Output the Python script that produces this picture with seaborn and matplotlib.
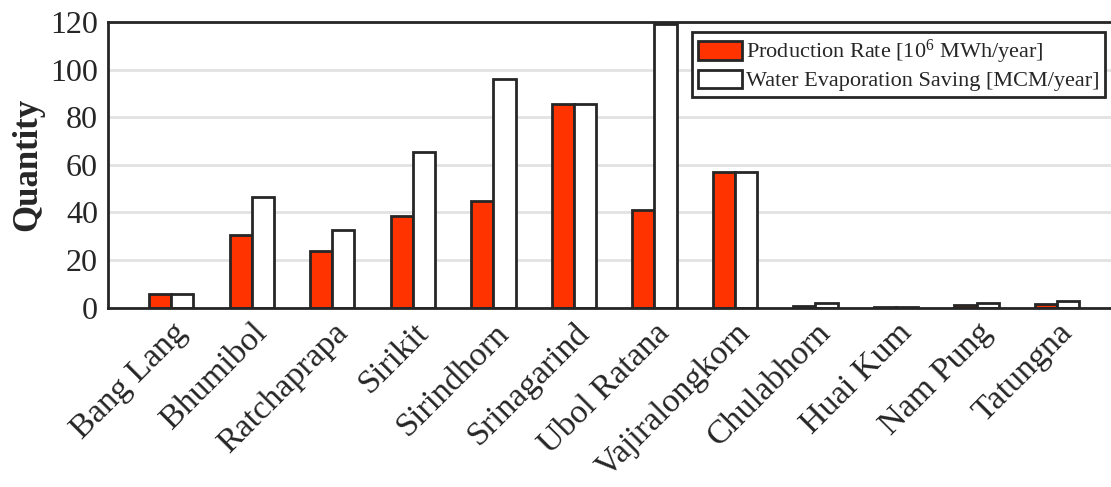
import matplotlib
matplotlib.use("Agg")
import matplotlib.pyplot as plt
import seaborn as sns
import pandas as pd
from matplotlib.patches import Patch

# Hydropower reservoirs and their floating-PV estimates
reservoirs = ["Bang Lang", "Bhumibol", "Ratchaprapa", "Sirikit", "Sirindhorn",
              "Srinagarind", "Ubol Ratana", "Vajiralongkorn", "Chulabhorn",
              "Huai Kum", "Nam Pung", "Tatungna"]
production_rate = [5.8, 30.6, 23.9, 38.5, 45.0, 85.6, 41.2, 57.2, 0.9, 0.3, 1.0, 1.4]
evaporation_saving = [5.8, 46.6, 32.7, 65.2, 96.2, 85.6, 119.3, 57.2, 2.1, 0.3, 2.0, 2.9]
series_names = ["Production Rate [10$^6$ MWh/year]",
                "Water Evaporation Saving [MCM/year]"]
y_ticks = [0, 20, 40, 60, 80, 100, 120]

df = pd.DataFrame({
    "Reservoir": reservoirs * 2,
    "Quantity": production_rate + evaporation_saving,
    "Series": [series_names[0]] * len(reservoirs) + [series_names[1]] * len(reservoirs),
})

sns.set_theme(style="white")
plt.rcParams["font.family"] = ["Liberation Serif", "DejaVu Serif"]
plt.rcParams["mathtext.fontset"] = "custom"
plt.rcParams["mathtext.rm"] = "Liberation Serif"
plt.rcParams["mathtext.it"] = "Liberation Serif:italic"

red = "#FF3300"
edge = "#262626"

fig = plt.figure(figsize=(11.11, 4.87), dpi=100)
ax = fig.add_axes([0.0969, 0.368, 0.9031, 0.587])

sns.barplot(data=df, x="Reservoir", y="Quantity", hue="Series",
            palette=[red, "white"], width=0.55, edgecolor=edge,
            linewidth=2.0, ax=ax, legend=False, saturation=1)

ax.set_ylim(0, 120)
ax.set_xlim(-0.79, 11.67)
ax.set_yticks(y_ticks)
ax.set_yticklabels([str(t) for t in y_ticks], fontsize=23)
ax.set_xticks(range(len(reservoirs)))
ax.set_xticklabels(reservoirs, rotation=45, ha="right",
                   rotation_mode="anchor", fontsize=24.5)
ax.tick_params(axis="both", length=0, pad=7, colors="#262626")
ax.set_xlabel("")
ax.set_ylabel("Quantity", fontsize=25, fontweight="bold", labelpad=4)

ax.yaxis.grid(True, color="#e2e2e2", linewidth=2.0)
ax.set_axisbelow(True)
for side in ["left", "bottom", "top"]:
    ax.spines[side].set_color(edge)
    ax.spines[side].set_linewidth(2.0)
ax.spines["right"].set_visible(False)

handles = [Patch(facecolor=red, edgecolor=edge, linewidth=2.0),
           Patch(facecolor="white", edgecolor=edge, linewidth=2.0)]
leg = ax.legend(handles, series_names, loc="upper right",
                bbox_to_anchor=(0.9945, 0.963), fontsize=16,
                frameon=True, fancybox=False, framealpha=1,
                handlelength=2.0, handleheight=0.9, handletextpad=0.2,
                borderpad=0.25, labelspacing=0.15, borderaxespad=0.0)
leg.get_frame().set_edgecolor(edge)
leg.get_frame().set_linewidth(2.0)

fig.savefig("out.png", dpi=100)
